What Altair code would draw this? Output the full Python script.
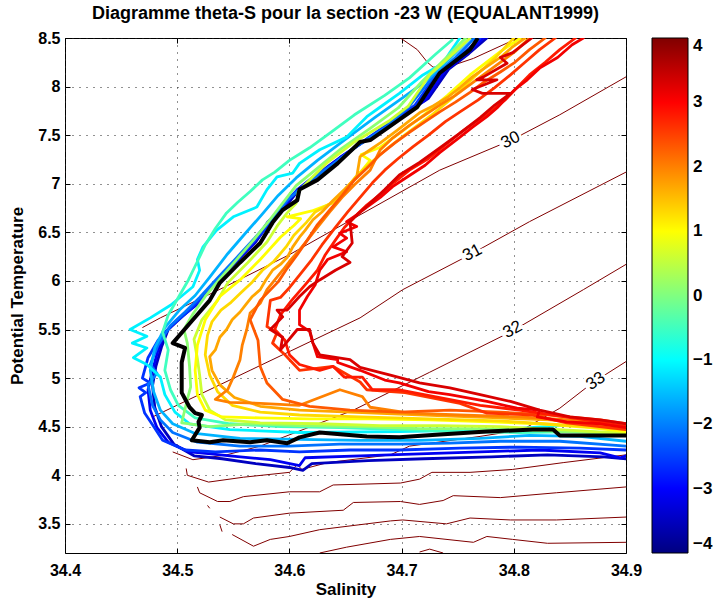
import altair as alt
import pandas as pd

FONT = "Liberation Sans"

# ---------------- axis / colour data ----------------
S_TICKS = [34.4, 34.5, 34.6, 34.7, 34.8, 34.9]
T_TICKS = [3.5, 4, 4.5, 5, 5.5, 6, 6.5, 7, 7.5, 8, 8.5]
CBAR_TICKS = [-4, -3, -2, -1, 0, 1, 2, 3, 4]
JET_STOPS = [-4, -3, -1, 1, 3, 4]
JET_COLORS = ["#000080", "#0000ff", "#00ffff", "#ffff00", "#ff0000", "#800000"]

# ---------------- density contours (S, theta) ----------------
C29 = [(34.699, 8.50), (34.714, 8.38), (34.723, 8.25), (34.728, 8.20), (34.741, 8.20), (34.764, 8.29), (34.800, 8.48), (34.806, 8.50)]
C30 = [(34.469, 5.52), (34.485, 5.62), (34.541, 5.93), (34.600, 6.27), (34.663, 6.68), (34.734, 7.14), (34.798, 7.45), (34.841, 7.71), (34.900, 8.10)]
C31 = [(34.478, 4.60), (34.565, 5.08), (34.663, 5.62), (34.701, 5.91), (34.761, 6.27), (34.814, 6.61), (34.900, 7.12)]
C32 = [(34.496, 4.24), (34.514, 4.16), (34.544, 4.21), (34.574, 4.30), (34.657, 4.67), (34.725, 5.06), (34.798, 5.48), (34.862, 5.91), (34.900, 6.17)]
C33 = [(34.508, 4.07), (34.509, 4.00), (34.528, 3.93), (34.559, 3.98), (34.600, 4.03), (34.607, 4.11), (34.611, 4.06), (34.634, 4.13), (34.690, 4.21), (34.707, 4.30), (34.770, 4.40), (34.808, 4.47), (34.841, 4.69), (34.870, 4.95), (34.900, 5.17)]
C34 = [(34.518, 3.88), (34.520, 3.82), (34.536, 3.73), (34.547, 3.73), (34.559, 3.78), (34.600, 3.83), (34.627, 3.83), (34.639, 3.90), (34.699, 3.92), (34.716, 3.96), (34.727, 4.03), (34.761, 4.03), (34.799, 4.06), (34.844, 4.13), (34.900, 4.21)]
C35 = [(34.538, 3.57), (34.550, 3.50), (34.559, 3.50), (34.568, 3.56), (34.600, 3.61), (34.648, 3.64), (34.657, 3.72), (34.699, 3.73), (34.716, 3.70), (34.737, 3.74), (34.746, 3.79), (34.788, 3.77), (34.838, 3.82), (34.900, 3.88)]
C36 = [(34.549, 3.39), (34.568, 3.27), (34.583, 3.34), (34.600, 3.37), (34.627, 3.44), (34.690, 3.53), (34.701, 3.54), (34.740, 3.50), (34.761, 3.56), (34.797, 3.54), (34.838, 3.54), (34.900, 3.57)]
C37 = [(34.627, 3.20), (34.651, 3.26), (34.690, 3.34), (34.716, 3.37), (34.764, 3.31), (34.776, 3.37), (34.799, 3.34), (34.830, 3.30), (34.900, 3.31)]
C38 = [(34.716, 3.21), (34.725, 3.24), (34.737, 3.20)]
C39 = [(34.538, 3.49), (34.540, 3.42)]
C40 = [(34.527, 3.69), (34.529, 3.66)]
CONTOURS = [C29, C30, C31, C32, C33, C34, C35, C36, C37, C38, C39, C40]

# ---------------- contour labels ----------------
LBL_30 = [("30", 34.797, 7.45)]
LBL_31 = [("31", 34.763, 6.29)]
LBL_32 = [("32", 34.799, 5.50)]
LBL_33 = [("33", 34.873, 4.97)]

# ---------------- theta-S profiles (S, theta), by latitude ----------------
B0 = [(34.776, 8.50), (34.760, 8.34), (34.742, 8.18), (34.724, 7.88), (34.700, 7.70), (34.675, 7.50), (34.648, 7.29), (34.626, 7.10), (34.610, 6.96), (34.599, 6.80), (34.584, 6.63), (34.570, 6.40), (34.552, 6.19), (34.534, 5.99), (34.521, 5.80), (34.505, 5.64), (34.492, 5.50), (34.486, 5.32), (34.481, 5.12), (34.478, 4.92), (34.480, 4.70), (34.486, 4.50), (34.497, 4.32), (34.515, 4.20), (34.540, 4.17), (34.570, 4.12), (34.600, 4.08), (34.612, 4.05), (34.620, 4.12), (34.670, 4.15), (34.720, 4.17), (34.780, 4.19), (34.830, 4.21), (34.880, 4.19), (34.900, 4.17)]
B1 = [(34.773, 8.50), (34.757, 8.33), (34.739, 8.17), (34.721, 7.86), (34.698, 7.68), (34.672, 7.48), (34.645, 7.27), (34.623, 7.08), (34.607, 6.94), (34.596, 6.78), (34.581, 6.61), (34.567, 6.37), (34.549, 6.16), (34.531, 5.96), (34.519, 5.77), (34.502, 5.62), (34.489, 5.47), (34.483, 5.29), (34.478, 5.08), (34.474, 4.88), (34.476, 4.67), (34.482, 4.49), (34.492, 4.34), (34.511, 4.24), (34.530, 4.22), (34.547, 4.20), (34.583, 4.16), (34.609, 4.10), (34.614, 4.18), (34.663, 4.20), (34.716, 4.22), (34.770, 4.24), (34.823, 4.26), (34.877, 4.23), (34.895, 4.18), (34.900, 4.20)]
B2 = [(34.770, 8.50), (34.750, 8.29), (34.731, 8.12), (34.712, 7.81), (34.691, 7.64), (34.665, 7.43), (34.641, 7.22), (34.618, 7.04), (34.602, 6.88), (34.590, 6.71), (34.576, 6.50), (34.560, 6.30), (34.543, 6.09), (34.527, 5.89), (34.511, 5.70), (34.496, 5.55), (34.483, 5.39), (34.474, 5.21), (34.469, 5.00), (34.476, 4.95), (34.466, 4.90), (34.472, 4.85), (34.467, 4.81), (34.471, 4.64), (34.478, 4.52), (34.487, 4.36), (34.507, 4.26), (34.534, 4.24), (34.574, 4.26), (34.609, 4.24), (34.654, 4.26), (34.698, 4.26), (34.752, 4.28), (34.805, 4.29), (34.859, 4.28), (34.900, 4.26)]
B3 = [(34.765, 8.50), (34.748, 8.30), (34.727, 8.09), (34.707, 7.80), (34.687, 7.59), (34.658, 7.37), (34.634, 7.16), (34.614, 6.99), (34.598, 6.83), (34.585, 6.65), (34.569, 6.44), (34.553, 6.24), (34.536, 6.03), (34.520, 5.83), (34.507, 5.68), (34.494, 5.54), (34.483, 5.34), (34.476, 5.14), (34.482, 5.05), (34.474, 4.93), (34.478, 4.72), (34.485, 4.57), (34.496, 4.44), (34.518, 4.34), (34.556, 4.30), (34.600, 4.30), (34.645, 4.32), (34.698, 4.32), (34.743, 4.33), (34.788, 4.35), (34.841, 4.35), (34.900, 4.30)]
B4 = [(34.761, 8.50), (34.743, 8.29), (34.721, 8.05), (34.698, 7.86), (34.676, 7.68), (34.649, 7.45), (34.625, 7.24), (34.606, 7.06), (34.590, 6.88), (34.576, 6.69), (34.560, 6.48), (34.545, 6.28), (34.529, 6.04), (34.516, 5.85), (34.502, 5.70), (34.489, 5.52), (34.480, 5.31), (34.476, 5.08), (34.479, 4.86), (34.485, 4.67), (34.496, 4.53), (34.516, 4.43), (34.556, 4.38), (34.609, 4.37), (34.663, 4.36), (34.716, 4.36), (34.770, 4.38), (34.814, 4.41), (34.859, 4.40), (34.900, 4.35)]
CY1 = [(34.752, 8.50), (34.743, 8.35), (34.737, 8.24), (34.719, 8.12), (34.698, 7.93), (34.681, 7.79), (34.669, 7.69), (34.651, 7.48), (34.627, 7.35), (34.609, 7.21), (34.603, 7.11), (34.589, 7.07), (34.580, 6.94), (34.571, 6.76), (34.550, 6.66), (34.535, 6.52), (34.523, 6.35), (34.518, 6.22), (34.520, 6.11), (34.514, 5.94), (34.494, 5.75), (34.476, 5.62), (34.458, 5.50), (34.473, 5.43), (34.460, 5.36), (34.473, 5.31), (34.461, 5.21), (34.473, 5.14), (34.485, 5.01), (34.489, 4.83), (34.498, 4.65), (34.511, 4.53), (34.547, 4.47), (34.609, 4.44), (34.698, 4.45), (34.788, 4.47), (34.841, 4.51), (34.900, 4.52)]
AQ1 = [(34.745, 8.48), (34.730, 8.33), (34.707, 8.09), (34.685, 7.91), (34.658, 7.71), (34.636, 7.52), (34.618, 7.37), (34.600, 7.24), (34.587, 7.12), (34.576, 7.04), (34.565, 6.92), (34.554, 6.81), (34.544, 6.70), (34.534, 6.54), (34.525, 6.37), (34.518, 6.20), (34.510, 6.01), (34.501, 5.83), (34.492, 5.65), (34.487, 5.47), (34.492, 5.29), (34.489, 5.08), (34.494, 4.88), (34.501, 4.72), (34.516, 4.59), (34.547, 4.53), (34.592, 4.50), (34.645, 4.49), (34.698, 4.47), (34.752, 4.45), (34.805, 4.44), (34.859, 4.45), (34.900, 4.43)]
GR1 = [(34.757, 8.50), (34.740, 8.30), (34.718, 8.05), (34.697, 7.78), (34.672, 7.57), (34.646, 7.36), (34.624, 7.15), (34.606, 6.98), (34.594, 6.80), (34.582, 6.62), (34.568, 6.42), (34.553, 6.22), (34.538, 6.02), (34.525, 5.84), (34.514, 5.66), (34.506, 5.50), (34.509, 5.36), (34.511, 5.12), (34.512, 4.91), (34.509, 4.78), (34.504, 4.54), (34.529, 4.50), (34.565, 4.53), (34.609, 4.51), (34.663, 4.50), (34.716, 4.48), (34.770, 4.48), (34.823, 4.46), (34.868, 4.44), (34.900, 4.44)]
YG1 = [(34.761, 8.50), (34.748, 8.36), (34.725, 8.12), (34.706, 7.80), (34.688, 7.64), (34.658, 7.43), (34.634, 7.22), (34.618, 7.04), (34.608, 6.92), (34.606, 6.80), (34.598, 6.70), (34.590, 6.58), (34.580, 6.40), (34.563, 6.19), (34.545, 5.98), (34.536, 5.80), (34.522, 5.60), (34.515, 5.40), (34.518, 5.20), (34.520, 5.03), (34.522, 4.83), (34.529, 4.67), (34.543, 4.57), (34.574, 4.54), (34.627, 4.53), (34.681, 4.51), (34.734, 4.51), (34.788, 4.50), (34.841, 4.47), (34.900, 4.43)]
YE1 = [(34.806, 8.50), (34.788, 8.36), (34.761, 8.12), (34.741, 7.91), (34.720, 7.71), (34.699, 7.53), (34.680, 7.37), (34.664, 7.30), (34.672, 7.24), (34.660, 7.07), (34.648, 6.92), (34.638, 6.80), (34.620, 6.72), (34.598, 6.66), (34.610, 6.64), (34.604, 6.57), (34.592, 6.45), (34.574, 6.22), (34.556, 6.01), (34.538, 5.84), (34.525, 5.60), (34.518, 5.34), (34.516, 5.08), (34.518, 4.83), (34.525, 4.67), (34.540, 4.60), (34.574, 4.59), (34.618, 4.58), (34.672, 4.58), (34.725, 4.57), (34.779, 4.55), (34.823, 4.53), (34.868, 4.49), (34.900, 4.45)]
YE2 = [(34.800, 8.50), (34.783, 8.29), (34.764, 8.09), (34.745, 7.88), (34.726, 7.70), (34.705, 7.52), (34.688, 7.37), (34.670, 7.19), (34.659, 7.07), (34.646, 6.88), (34.637, 6.80), (34.623, 6.71), (34.615, 6.60), (34.604, 6.47), (34.597, 6.35), (34.586, 6.20), (34.576, 6.11), (34.567, 5.99), (34.557, 5.88), (34.548, 5.78), (34.539, 5.70), (34.531, 5.58), (34.527, 5.44), (34.525, 5.24), (34.529, 5.03), (34.536, 4.86), (34.549, 4.72), (34.574, 4.65), (34.609, 4.62), (34.663, 4.60), (34.725, 4.58), (34.788, 4.56), (34.841, 4.52), (34.900, 4.47)]
OR1 = [(34.810, 8.50), (34.798, 8.40), (34.788, 8.30), (34.774, 8.19), (34.763, 8.10), (34.752, 7.99), (34.741, 7.89), (34.728, 7.80), (34.716, 7.73), (34.706, 7.64), (34.696, 7.55), (34.681, 7.42), (34.672, 7.35), (34.663, 7.28), (34.660, 7.07), (34.649, 6.94), (34.639, 6.83), (34.629, 6.71), (34.621, 6.63), (34.614, 6.52), (34.609, 6.45), (34.603, 6.35), (34.598, 6.24), (34.592, 6.17), (34.585, 6.11), (34.579, 6.01), (34.574, 5.91), (34.567, 5.84), (34.562, 5.77), (34.556, 5.68), (34.549, 5.60), (34.544, 5.50), (34.538, 5.42), (34.534, 5.29), (34.529, 5.22), (34.531, 5.08), (34.538, 4.93), (34.551, 4.80), (34.574, 4.71), (34.609, 4.67), (34.654, 4.65), (34.698, 4.63), (34.743, 4.61), (34.788, 4.59), (34.832, 4.57), (34.877, 4.52), (34.900, 4.49)]
OR2 = [(34.814, 8.50), (34.801, 8.36), (34.788, 8.25), (34.774, 8.13), (34.761, 8.02), (34.748, 7.91), (34.734, 7.81), (34.721, 7.71), (34.707, 7.60), (34.692, 7.47), (34.681, 7.35), (34.672, 7.14), (34.658, 6.99), (34.647, 6.86), (34.636, 6.71), (34.625, 6.55), (34.616, 6.42), (34.609, 6.32), (34.600, 6.20), (34.594, 6.11), (34.587, 6.01), (34.580, 5.91), (34.574, 5.77), (34.565, 5.67), (34.562, 5.50), (34.558, 5.34), (34.556, 5.19), (34.550, 5.01), (34.545, 4.88), (34.534, 4.78), (34.547, 4.75), (34.574, 4.74), (34.609, 4.72), (34.645, 4.88), (34.665, 4.81), (34.672, 4.70), (34.707, 4.64), (34.752, 4.62), (34.805, 4.60), (34.850, 4.57), (34.900, 4.50)]
OR3 = [(34.828, 8.50), (34.814, 8.38), (34.801, 8.25), (34.788, 8.15), (34.774, 8.05), (34.761, 7.94), (34.748, 7.84), (34.734, 7.74), (34.721, 7.64), (34.707, 7.53), (34.694, 7.42), (34.681, 7.30), (34.669, 7.16), (34.658, 7.04), (34.647, 6.88), (34.636, 6.73), (34.625, 6.58), (34.616, 6.42), (34.607, 6.27), (34.598, 6.13), (34.590, 5.99), (34.574, 5.80), (34.565, 5.60), (34.572, 5.39), (34.574, 5.12), (34.580, 4.95), (34.594, 4.78), (34.618, 4.71), (34.654, 4.67), (34.698, 4.65), (34.743, 4.67), (34.788, 4.65), (34.832, 4.62), (34.877, 4.57), (34.900, 4.53)]
OR4 = [(34.837, 8.50), (34.823, 8.38), (34.810, 8.25), (34.797, 8.12), (34.783, 7.99), (34.768, 7.86), (34.752, 7.74), (34.739, 7.64), (34.724, 7.50), (34.710, 7.38), (34.697, 7.26), (34.685, 7.14), (34.674, 7.01), (34.663, 6.86), (34.652, 6.71), (34.641, 6.55), (34.629, 6.37), (34.620, 6.22), (34.609, 6.06), (34.600, 5.93), (34.592, 5.83), (34.583, 5.80), (34.580, 5.53), (34.589, 5.47), (34.585, 5.36), (34.596, 5.24), (34.609, 5.08), (34.639, 5.12), (34.663, 4.96), (34.669, 4.88), (34.703, 4.85), (34.752, 4.74), (34.776, 4.64), (34.817, 4.62), (34.847, 4.54), (34.900, 4.47)]
RD0 = [(34.855, 8.50), (34.841, 8.38), (34.828, 8.25), (34.814, 8.12), (34.803, 7.99), (34.792, 7.86), (34.779, 7.74), (34.765, 7.63), (34.752, 7.52), (34.739, 7.40), (34.724, 7.26), (34.707, 7.14), (34.694, 7.02), (34.681, 6.89), (34.669, 6.78), (34.660, 6.68), (34.649, 6.55), (34.641, 6.42), (34.632, 6.27), (34.625, 6.11), (34.614, 5.96), (34.602, 5.80), (34.592, 5.65), (34.587, 5.50), (34.596, 5.39), (34.600, 5.24), (34.609, 5.14), (34.627, 5.08), (34.639, 5.12), (34.649, 5.01), (34.665, 5.01), (34.674, 4.88), (34.698, 4.88), (34.734, 4.80), (34.770, 4.72), (34.805, 4.67), (34.841, 4.61), (34.877, 4.55), (34.900, 4.50)]
RD1 = [(34.862, 8.50), (34.852, 8.43), (34.839, 8.30), (34.823, 8.19), (34.812, 8.07), (34.801, 7.97), (34.794, 7.89), (34.785, 7.78), (34.776, 7.69), (34.763, 7.58), (34.752, 7.48), (34.734, 7.32), (34.721, 7.19), (34.705, 7.07), (34.692, 6.97), (34.681, 6.86), (34.669, 6.76), (34.660, 6.68), (34.651, 6.61), (34.660, 6.56), (34.645, 6.49), (34.651, 6.44), (34.639, 6.35), (34.651, 6.30), (34.634, 6.22), (34.627, 6.11), (34.623, 5.96), (34.616, 5.84), (34.609, 5.70), (34.609, 5.55), (34.618, 5.48), (34.621, 5.36), (34.625, 5.22), (34.643, 5.19), (34.643, 5.16), (34.663, 5.08), (34.685, 4.98), (34.698, 4.95), (34.724, 4.86), (34.743, 4.83), (34.776, 4.76), (34.803, 4.69), (34.823, 4.67), (34.821, 4.60), (34.847, 4.55), (34.877, 4.53), (34.900, 4.49)]
RD2 = [(34.816, 8.50), (34.799, 8.35), (34.788, 8.30), (34.794, 8.24), (34.773, 8.10), (34.767, 8.07), (34.785, 8.07), (34.763, 7.97), (34.772, 7.93), (34.797, 7.93), (34.783, 7.81), (34.770, 7.68), (34.752, 7.52), (34.734, 7.37), (34.716, 7.22), (34.698, 7.09), (34.685, 6.94), (34.672, 6.80), (34.663, 6.71), (34.654, 6.61), (34.656, 6.39), (34.647, 6.25), (34.654, 6.19), (34.641, 6.11), (34.627, 6.01), (34.618, 5.94), (34.609, 5.84), (34.598, 5.70), (34.589, 5.70), (34.594, 5.63), (34.583, 5.50), (34.594, 5.42), (34.592, 5.29), (34.607, 5.50), (34.618, 5.50), (34.621, 5.36), (34.627, 5.24), (34.654, 5.19), (34.663, 5.11), (34.690, 5.03), (34.716, 4.95), (34.743, 4.90), (34.770, 4.83), (34.797, 4.76), (34.823, 4.67), (34.850, 4.60), (34.877, 4.57), (34.900, 4.53)]
BLACK = [(34.768, 8.50), (34.761, 8.38), (34.734, 8.14), (34.714, 7.79), (34.698, 7.66), (34.672, 7.45), (34.663, 7.43), (34.643, 7.21), (34.625, 7.04), (34.609, 6.94), (34.607, 6.83), (34.594, 6.73), (34.585, 6.60), (34.574, 6.39), (34.556, 6.19), (34.538, 5.98), (34.529, 5.80), (34.514, 5.60), (34.496, 5.36), (34.507, 5.31), (34.504, 5.16), (34.504, 4.85), (34.511, 4.70), (34.516, 4.64), (34.522, 4.62), (34.519, 4.55), (34.520, 4.49), (34.513, 4.36), (34.529, 4.34), (34.541, 4.36), (34.565, 4.34), (34.580, 4.36), (34.598, 4.33), (34.609, 4.39), (34.627, 4.44), (34.669, 4.40), (34.698, 4.39), (34.734, 4.42), (34.776, 4.45), (34.817, 4.47), (34.835, 4.47), (34.841, 4.41), (34.900, 4.41)]

PROFILES = [
    ("B0", -3.5, B0), ("B1", -3.1, B1), ("B2", -2.6, B2), ("B3", -2.1, B3), ("B4", -1.6, B4),
    ("CY1", -1.1, CY1), ("AQ1", -0.5, AQ1), ("GR1", 0.1, GR1), ("YG1", 0.6, YG1),
    ("YE1", 1.0, YE1), ("YE2", 1.3, YE2), ("OR1", 1.7, OR1), ("OR2", 2.0, OR2),
    ("OR3", 2.3, OR3), ("OR4", 2.6, OR4), ("RD0", 2.8, RD0), ("RD1", 3.1, RD1),
    ("RD2", 3.3, RD2),
]


def table(pts, name, lat=None):
    d = pd.DataFrame({"S": [p[0] for p in pts], "T": [p[1] for p in pts]})
    d["i"] = range(len(pts))
    d["id"] = name
    if lat is not None:
        d["lat"] = lat
    return d


prof_df = pd.concat([table(p, n, l) for n, l, p in PROFILES], ignore_index=True)
cont_df = pd.concat([table(c, "c%d" % k) for k, c in enumerate(CONTOURS)], ignore_index=True)
black_df = table(BLACK, "black")

xs = alt.Scale(domain=[34.4, 34.9], nice=False, zero=False)
ys = alt.Scale(domain=[3.2, 8.5], nice=False, zero=False)

common_lab = dict(labelFont=FONT, labelFontSize=16, labelFontWeight="bold", labelColor="black",
                  titleFont=FONT, titleFontSize=17, titleFontWeight="bold", titleColor="black")

x_main = alt.Axis(values=S_TICKS, format=".1f", title="Salinity", orient="bottom", offset=-5,
                  tickSize=5, tickColor="black", domain=False, grid=True, gridColor="#222222",
                  gridDash=[1, 6], gridWidth=1, labelPadding=9, titlePadding=3,
                  labelFlush=False, labelOverlap=False, **common_lab)
y_main = alt.Axis(values=T_TICKS, format="~g", title="Potential Temperature", orient="left", offset=-5,
                  tickSize=5, tickColor="black", domain=False, grid=True, gridColor="#222222",
                  gridDash=[1, 6], gridWidth=1, labelPadding=5, titlePadding=11,
                  labelFlush=False, labelOverlap=False, **common_lab)
x_top = alt.Axis(values=S_TICKS, orient="top", offset=-5, tickSize=5, tickColor="black",
                 labels=False, domain=False, grid=False, title=None)
y_right = alt.Axis(values=T_TICKS, orient="right", offset=-5, tickSize=5, tickColor="black",
                   labels=False, domain=False, grid=False, title=None)

contours = alt.Chart(cont_df).mark_line(color="#800000", strokeWidth=1, clip=True).encode(
    x=alt.X("S:Q", scale=xs, axis=x_main),
    y=alt.Y("T:Q", scale=ys, axis=y_main),
    detail="id:N",
    order="i:Q",
)

legend = alt.Legend(orient="none", legendX=587, legendY=0, direction="vertical",
                    gradientLength=515, gradientThickness=36, title=None, values=CBAR_TICKS,
                    labelFont=FONT, labelFontSize=17, labelFontWeight="bold", labelColor="black",
                    labelOffset=5, labelBaseline="middle", gradientStrokeColor="black",
                    gradientStrokeWidth=1, padding=0, labelOverlap=False)

profiles = alt.Chart(prof_df).mark_line(strokeWidth=2.8, clip=True, strokeJoin="round", strokeCap="round").encode(
    x=alt.X("S:Q", scale=xs, axis=None),
    y=alt.Y("T:Q", scale=ys, axis=None),
    color=alt.Color("lat:Q", scale=alt.Scale(domain=JET_STOPS, range=JET_COLORS, interpolate="rgb"), legend=legend),
    detail="id:N",
    order="i:Q",
)

black = alt.Chart(black_df).mark_line(color="black", strokeWidth=4, clip=True, strokeJoin="round").encode(
    x=alt.X("S:Q", scale=xs, axis=x_top),
    y=alt.Y("T:Q", scale=ys, axis=y_right),
    order="i:Q",
)


def label_layers(rows, ang):
    d = pd.DataFrame(rows, columns=["txt", "S", "T"])
    base = alt.Chart(d).encode(
        x=alt.X("S:Q", scale=xs, axis=None),
        y=alt.Y("T:Q", scale=ys, axis=None),
        text="txt:N",
    )
    halo = base.mark_text(font=FONT, fontSize=17, angle=ang, color="white", stroke="white", strokeWidth=6)
    txt = base.mark_text(font=FONT, fontSize=17, angle=ang, color="black")
    return [halo, txt]


layers = [contours, profiles, black]
layers += label_layers(LBL_30, 334)
layers += label_layers(LBL_31, 332)
layers += label_layers(LBL_32, 331)
layers += label_layers(LBL_33, 326)

chart = alt.layer(*layers).resolve_axis(x="independent", y="independent").properties(
    width=561,
    height=515,
    padding={"left": 65, "top": 38, "right": 88, "bottom": 47},
    autosize=alt.AutoSizeParams(type="none"),
    title=alt.TitleParams("Diagramme theta-S pour la section -23 W (EQUALANT1999)", font=FONT,
                          fontSize=18, fontWeight="bold", color="black", anchor="middle",
                          frame="group", offset=7),
    background="white",
).configure_view(stroke="black", strokeWidth=1)

chart.save("out.html", embed_options={"renderer": "svg", "actions": False})
